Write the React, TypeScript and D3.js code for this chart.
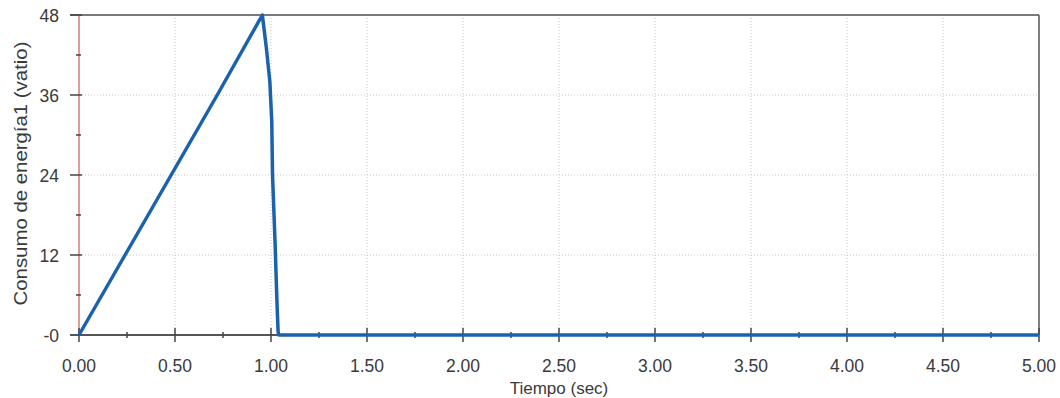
import React, { useRef, useEffect } from 'react';
import * as d3 from 'd3';

// time (sec) and power (vatio)
const timeSec = [0, 0.24, 0.48, 0.72, 0.955, 0.976, 0.994, 1.004, 1.008, 1.021, 1.031, 1.037, 1.04, 5.0];
const power = [0, 12, 24, 36, 48, 43, 38, 32, 24, 14, 5, 0.5, 0, 0];

const xTicks = [0, 0.5, 1, 1.5, 2, 2.5, 3, 3.5, 4, 4.5, 5];
const xTickLabels = ['0.00', '0.50', '1.00', '1.50', '2.00', '2.50', '3.00', '3.50', '4.00', '4.50', '5.00'];
const yTicks = [0, 12, 24, 36, 48];
const yTickLabels = ['-0', '12', '24', '36', '48'];
const xMinor = [0.25, 0.75, 1.25, 1.75, 2.25, 2.75, 3.25, 3.75, 4.25, 4.75];
const yMinor = [6, 18, 30, 42];

const App = () => {
  const svgRef = useRef<SVGSVGElement | null>(null);
  const width = 1060;
  const height = 398;

  useEffect(() => {
    if (!svgRef.current) return;
    const svg = d3.select(svgRef.current);
    svg.selectAll('*').remove();

    const margin = { top: 15, right: 21, bottom: 63, left: 79 };
    const innerW = width - margin.left - margin.right;
    const innerH = height - margin.top - margin.bottom;

    const x = d3.scaleLinear().domain([0, 5]).range([0, innerW]);
    const y = d3.scaleLinear().domain([0, 48]).range([innerH, 0]);

    svg.append('rect').attr('width', width).attr('height', height).attr('fill', '#ffffff');

    const g = svg.append('g').attr('transform', `translate(${margin.left},${margin.top})`);
    const font = 'Arial, "Liberation Sans", sans-serif';
    const textColor = '#3a3a3a';

    // dotted grid
    g.selectAll('.vgrid')
      .data(xTicks.slice(1, -1))
      .enter()
      .append('line')
      .attr('x1', d => x(d)).attr('x2', d => x(d))
      .attr('y1', 0).attr('y2', innerH)
      .attr('stroke', '#c8c8c8').attr('stroke-dasharray', '1,2');

    g.selectAll('.hgrid')
      .data(yTicks.slice(1, -1))
      .enter()
      .append('line')
      .attr('x1', 0).attr('x2', innerW)
      .attr('y1', d => y(d)).attr('y2', d => y(d))
      .attr('stroke', '#c8c8c8').attr('stroke-dasharray', '1,2');

    // frame: top and right
    g.append('line').attr('x1', -9).attr('x2', innerW).attr('y1', 0).attr('y2', 0)
      .attr('stroke', '#7a7a7a').attr('stroke-width', 2);
    g.append('line').attr('x1', innerW).attr('x2', innerW).attr('y1', 0).attr('y2', innerH)
      .attr('stroke', '#555555').attr('stroke-width', 1.5);

    // y axis (red line)
    g.append('line').attr('x1', 0).attr('x2', 0).attr('y1', 0).attr('y2', innerH)
      .attr('stroke', '#d47a7a').attr('stroke-width', 1.5);

    g.selectAll('.ytick')
      .data(yTicks)
      .enter()
      .append('line')
      .attr('x1', -9).attr('x2', 3)
      .attr('y1', d => y(d)).attr('y2', d => y(d))
      .attr('stroke', '#444').attr('stroke-width', 1.5);

    g.selectAll('.yminor')
      .data(yMinor)
      .enter()
      .append('line')
      .attr('x1', -3).attr('x2', 2)
      .attr('y1', d => y(d)).attr('y2', d => y(d))
      .attr('stroke', '#444').attr('stroke-width', 1.5);

    g.selectAll('.ylabel')
      .data(yTicks)
      .enter()
      .append('text')
      .attr('x', -20)
      .attr('y', d => y(d) + 6.5)
      .attr('text-anchor', 'end')
      .attr('font-family', font)
      .attr('font-size', 17.5)
      .attr('fill', textColor)
      .text((d, i) => yTickLabels[i]);

    // x axis
    g.append('line').attr('x1', -9).attr('x2', innerW).attr('y1', innerH).attr('y2', innerH)
      .attr('stroke', '#555555').attr('stroke-width', 2);

    g.selectAll('.xtick')
      .data(xTicks)
      .enter()
      .append('line')
      .attr('x1', d => x(d)).attr('x2', d => x(d))
      .attr('y1', innerH - 7).attr('y2', innerH + 7)
      .attr('stroke', '#444').attr('stroke-width', 1.5);

    g.selectAll('.xminor')
      .data(xMinor)
      .enter()
      .append('line')
      .attr('x1', d => x(d)).attr('x2', d => x(d))
      .attr('y1', innerH - 3).attr('y2', innerH + 3)
      .attr('stroke', '#444').attr('stroke-width', 1.5);

    g.selectAll('.xlabel')
      .data(xTicks)
      .enter()
      .append('text')
      .attr('x', d => x(d))
      .attr('y', innerH + 37)
      .attr('text-anchor', 'middle')
      .attr('font-family', font)
      .attr('font-size', 17.5)
      .attr('fill', textColor)
      .text((d, i) => xTickLabels[i]);

    // axis titles
    g.append('text')
      .attr('x', innerW / 2)
      .attr('y', innerH + 59)
      .attr('text-anchor', 'middle')
      .attr('font-family', font)
      .attr('font-size', 17)
      .attr('fill', textColor)
      .text('Tiempo (sec)');

    g.append('text')
      .attr('transform', 'rotate(-90)')
      .attr('x', -(307 - margin.top + 40 - margin.top) / 2)
      .attr('y', -52)
      .attr('text-anchor', 'middle')
      .attr('font-family', font)
      .attr('font-size', 18)
      .attr('textLength', 264)
      .attr('lengthAdjust', 'spacingAndGlyphs')
      .attr('fill', textColor)
      .text('Consumo de energía1 (vatio)');

    // data trace
    const pts = timeSec.map((t, i) => [t, power[i]] as [number, number]);
    const line = d3.line<[number, number]>().x(d => x(d[0])).y(d => y(d[1]));
    g.append('path')
      .datum(pts)
      .attr('d', line)
      .attr('fill', 'none')
      .attr('stroke', '#1b62ad')
      .attr('stroke-width', 3.5)
      .attr('stroke-linejoin', 'round');
  }, []);

  return (
    <svg
      ref={svgRef}
      width={width}
      height={height}
      style={{ position: 'absolute', left: 0, top: 0, display: 'block' }}
    />
  );
};

export default App;
